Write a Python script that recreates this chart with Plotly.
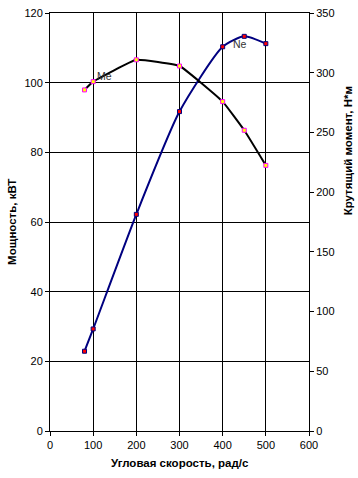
import plotly.graph_objects as go

omega = [80, 100, 200, 300, 400, 450, 500]
power_ne = [22.9, 29.3, 62.2, 91.7, 110.3, 113.3, 111.2]
torque_me = [285.6, 292.5, 310.8, 305.6, 275.8, 251.8, 222.4]
x_ticks = [0, 100, 200, 300, 400, 500, 600]
y_ticks = [0, 20, 40, 60, 80, 100, 120]
y2_ticks = [0, 50, 100, 150, 200, 250, 300, 350]

FONT = "Liberation Sans, Arial, sans-serif"

fig = go.Figure()
fig.add_trace(go.Scatter(
    x=omega, y=power_ne, mode="lines+markers", name="Ne",
    line=dict(color="#000080", width=2, shape="spline", smoothing=0.6),
    marker=dict(symbol="square", size=4, color="#FF0000",
                line=dict(color="#000080", width=1)),
    yaxis="y"))
fig.add_trace(go.Scatter(
    x=omega, y=torque_me, mode="lines+markers", name="Me",
    line=dict(color="#000000", width=2, shape="spline", smoothing=0.3),
    marker=dict(symbol="square", size=4, color="#FFFF00",
                line=dict(color="#FF00FF", width=1)),
    yaxis="y2"))

axis_common = dict(showline=True, linecolor="black", linewidth=1,
                   ticks="outside", ticklen=4, tickcolor="black",
                   tickfont=dict(family=FONT, size=11, color="black"),
                   zeroline=False, automargin=False)

TF = dict(family=FONT, size=11.5, color="black")

fig.update_layout(
    width=358, height=478,
    margin=dict(l=50, r=49, t=13, b=47),
    paper_bgcolor="white", plot_bgcolor="white",
    showlegend=False,
    font=dict(family=FONT, size=11, color="black"),
    xaxis=dict(range=[0, 600], tickvals=x_ticks, showgrid=True,
               gridcolor="black", gridwidth=1, mirror=True, **axis_common),
    yaxis=dict(range=[0, 120], tickvals=y_ticks, showgrid=True,
               gridcolor="black", gridwidth=1, **axis_common),
    yaxis2=dict(range=[0, 350], tickvals=y2_ticks, overlaying="y", side="right",
                showgrid=False, **axis_common),
    annotations=[
        dict(text="<b>Угловая скорость, рад/с</b>", xref="paper", yref="paper",
             x=0.5, y=-0.077, xanchor="center", yanchor="middle", showarrow=False,
             font=TF),
        dict(text="<b>Мощность, кВТ</b>", xref="paper", yref="paper",
             x=-0.147, y=0.5, xanchor="center", yanchor="middle", textangle=-90,
             showarrow=False, font=TF),
        dict(text="<b>Крутящий момент, Н*м</b>", xref="paper", yref="paper",
             x=1.152, y=0.67, xanchor="center", yanchor="middle", textangle=-90,
             showarrow=False, font=TF),
        dict(text="Me", x=127, y=102, xref="x", yref="y", showarrow=False,
             font=dict(family=FONT, size=10.5, color="#333333")),
        dict(text="Ne", x=441, y=111, xref="x", yref="y", showarrow=False,
             font=dict(family=FONT, size=10.5, color="#333333")),
    ],
)

fig.write_html("out.html", config={"displayModeBar": False},
               post_script="document.body.style.margin='0';document.body.style.overflow='hidden';")
